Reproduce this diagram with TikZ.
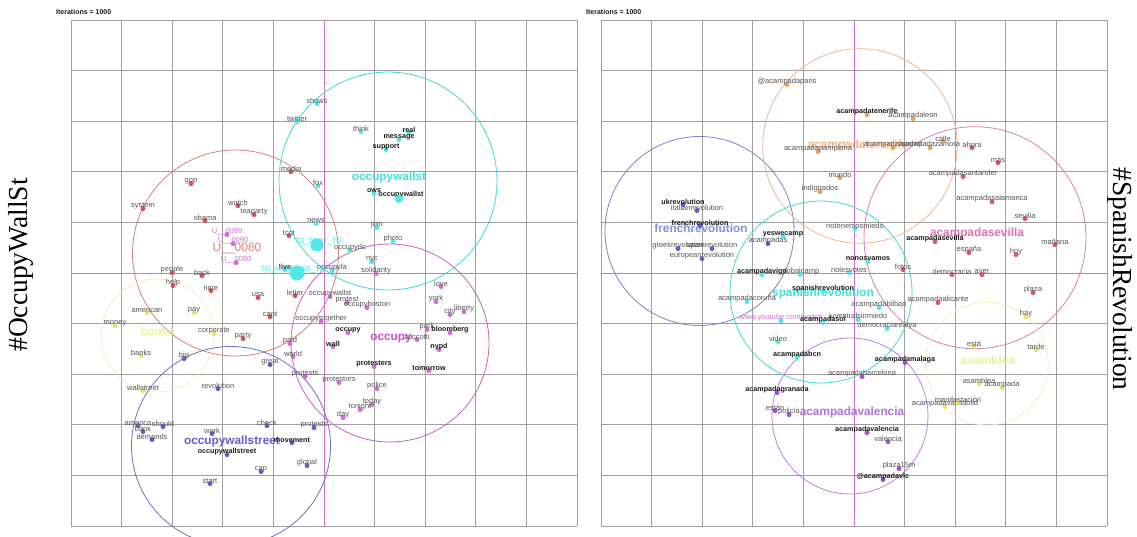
\documentclass[tikz,border=0pt]{standalone}
\usepackage{fontspec}
\setmainfont{Liberation Sans}
\newfontfamily\serifT{Liberation Serif}
\definecolor{gridc}{HTML}{A0A0A0}
\definecolor{axc}{HTML}{CC70CC}
\definecolor{txtg}{HTML}{555555}
\definecolor{txtb}{HTML}{1A1A1A}
% circle colours
\definecolor{ciR}{HTML}{D88080}
\definecolor{ciC}{HTML}{40D8D8}
\definecolor{ciM}{HTML}{C860C8}
\definecolor{ciY}{HTML}{F0F0B8}
\definecolor{ciB}{HTML}{7070C0}
\definecolor{ciF}{HTML}{8080D0}
\definecolor{ciO}{HTML}{F0B890}
\definecolor{ciP}{HTML}{D880B0}
\definecolor{ciV}{HTML}{C080E0}
% dot colours
\definecolor{dR}{HTML}{D85060}
\definecolor{dC}{HTML}{50E8E8}
\definecolor{dM}{HTML}{D070D0}
\definecolor{dY}{HTML}{E8E070}
\definecolor{dB}{HTML}{6060C8}
\definecolor{dO}{HTML}{E8A060}
\definecolor{dP}{HTML}{D85090}
\definecolor{dV}{HTML}{A050C8}
% big label colours
\definecolor{bR}{HTML}{E08080}
\definecolor{bC}{HTML}{40E0E0}
\definecolor{bY}{HTML}{F0F0A0}
\definecolor{bM}{HTML}{D050D0}
\definecolor{bB}{HTML}{6060D0}
\definecolor{bF}{HTML}{8090E8}
\definecolor{bO}{HTML}{F0B080}
\definecolor{bP}{HTML}{E070B0}
\definecolor{bV}{HTML}{B070E0}
\definecolor{bA}{HTML}{E8F0A0}
\newcommand\wordnode[6]{\fill[#4] (#2,#3+2.6) circle (2.5pt); \node[#5] (#1) at (#2,#3) {#6};}
\begin{document}
\begin{tikzpicture}[x=1pt,y=-1pt,
  gridl/.style={draw=gridc,line width=0.7pt},
  axl/.style={draw=axc,line width=0.8pt},
  clus/.style={line width=0.8pt},
  lbl/.style={font=\fontsize{7.5}{8}\selectfont,text=txtg,inner sep=0pt},
  lblb/.style={font=\fontsize{7.2}{8}\selectfont\bfseries,text=txtb,inner sep=0pt},
  lblc/.style={font=\fontsize{7.5}{8}\selectfont,inner sep=0pt},
  big/.style={font=\fontsize{11.8}{13}\selectfont\bfseries,inner sep=0pt},
  iter/.style={font=\fontsize{7}{8}\selectfont\bfseries,text=txtb,inner sep=0pt,anchor=west},
  side/.style={font=\serifT\fontsize{27.5}{30}\selectfont,inner sep=0pt}]
\useasboundingbox (0,0) rectangle (1137,536);
\fill[white] (0,0) rectangle (1137,536);

% grids
\foreach \i in {0,...,10}{
  \draw[gridl] ({71+50.6*\i},20) -- ({71+50.6*\i},526);
  \draw[gridl] (71,{20+50.6*\i}) -- (577,{20+50.6*\i});
  \draw[gridl] ({601+50.6*\i},20) -- ({601+50.6*\i},526);
  \draw[gridl] (601,{20+50.6*\i}) -- (1107,{20+50.6*\i});
}
% axes
\draw[axl] (324,20) -- (324,526);
\draw[axl] (71,273) -- (577,273);
\draw[axl] (854,20) -- (854,526);
\draw[axl] (601,273) -- (1107,273);

\node[iter] (itL) at (56,11.5) {Iterations = 1000};
\node[iter] (itR) at (586,11.5) {Iterations = 1000};

\node[side,rotate=90] (sideL) at (21,265) {\#OccupyWallSt};
\node[side,rotate=-90] (sideR) at (1120,279) {\#SpanishRevolution};

% ---------- LEFT clusters ----------
\draw[clus,ciR] (235.5,253) circle (103pt);
\draw[clus,ciC] (388,181) circle (109pt);
\draw[clus,ciM] (390,343) circle (99pt);
\draw[clus,ciY] (157.5,335.5) circle (56.5pt);
\draw[clus,ciB] (231,446) circle (99.5pt);

\node[big,text=bC] (BLc) at (389,177) {occupywallst};
\node[text=bR,inner sep=0pt,font=\fontsize{12}{13}\selectfont] (BLr) at (237,248) {U\_\_0080};
\node[big,text=bY] (BLy) at (158,331) {banks};
\node[big,text=bM] (BLm) at (391,339) {occupy};
\node[big,text=bB] (BLb) at (232,441) {occupywallstreet};

% cyan words
\wordnode{Lshows}{317}{101}{dC}{lbl}{shows}
\wordnode{Ltwitter}{297}{119}{dC}{lbl}{twitter}
\wordnode{Lthink}{361}{129}{dC}{lbl}{think}
\wordnode{Lreal}{409}{130}{dC}{lblb}{real}
\wordnode{Lmessage}{399}{137}{dC}{lblb}{message}
\wordnode{Lsupport}{386}{147}{dC}{lblb}{support}
\wordnode{Lfox}{318}{183}{dC}{lbl}{fox}
\wordnode{Lows}{374}{191}{dC}{lblb}{ows}
\wordnode{Lowsall}{401}{195}{dC}{lblb}{occupywallst}
\wordnode{Lnews}{316}{221}{dC}{lbl}{news}
\wordnode{Ljoin}{377}{225}{dC}{lbl}{join}
\wordnode{Lphoto}{393}{239}{dC}{lbl}{photo}
\wordnode{Locdc}{350}{248}{dC}{lbl}{occupydc}
\wordnode{Lnyc}{372}{259}{dC}{lbl}{nyc}
\wordnode{Locla}{332}{268}{dC}{lbl}{occupyla}
\wordnode{Llive}{285}{267}{dC}{lblb}{live}
\node[lblc,text=bC] (Ltgt) at (318,242) {TG\_TEXT\_TG};
\node[lblc,text=bC] (Ltgh) at (293,270) {TG\_HASHTAG\_TG};
\fill[dC] (317,245) circle (6.5pt);
\fill[dC] (297,273) circle (7.5pt);
\fill[dC] (399,199) circle (4pt);

% red words
\wordnode{Lmedia}{291}{169}{dR}{lbl}{media}
\wordnode{Lgop}{191}{181}{dR}{lbl}{gop}
\wordnode{Lsystem}{143}{206}{dR}{lbl}{system}
\wordnode{Lwatch}{238}{203}{dR}{lbl}{watch}
\wordnode{Ltea}{254}{212}{dR}{lbl}{teaparty}
\wordnode{Lobama}{205}{218}{dR}{lbl}{obama}
\wordnode{Ltcot}{289}{233}{dR}{lbl}{tcot}
\wordnode{Lpeople}{172}{270}{dR}{lbl}{people}
\wordnode{Lback}{202}{273}{dR}{lbl}{back}
\wordnode{Lhelp}{173}{283}{dR}{lbl}{help}
\wordnode{Ltime}{211}{288}{dR}{lbl}{time}
\wordnode{Lusa}{258}{295}{dR}{lbl}{usa}
\wordnode{Lletter}{295}{293}{dR}{lbl}{letter}
\wordnode{Lcant}{270}{314}{dR}{lbl}{cant}
\wordnode{Lparty}{243}{336}{dR}{lbl}{party}

% magenta words
\wordnode{Lu99}{227}{232}{dM}{lblc,text=dM}{U\_\_0099}
\wordnode{Lu90}{233}{241}{dM}{lblc,text=dM}{U\_\_0090}
\wordnode{Lu80}{236}{260}{dM}{lblc,text=dM}{U\_\_0080}
\wordnode{Lsolid}{376}{271}{dM}{lbl}{solidarity}
\wordnode{Llove}{441}{284}{dM}{lbl}{love}
\wordnode{Locws}{330}{294}{dM}{lbl}{occupywallst}
\wordnode{Lprotest}{347}{300}{dM}{lbl}{protest}
\wordnode{Lboston}{367}{305}{dM}{lbl}{occupyboston}
\wordnode{Lyork}{436}{299}{dM}{lbl}{york}
\wordnode{Lcity}{450}{312}{dM}{lbl}{city}
\wordnode{Lliberty}{464}{309}{dM}{lbl}{liberty}
\wordnode{Ltogether}{321}{319}{dM}{lbl}{occupytogether}
\wordnode{Loccupy}{348}{330}{dM}{lblb}{occupy}
\wordnode{Lpark}{427}{327}{dM}{lbl}{park}
\wordnode{Lbloom}{450}{330}{dM}{lblb}{bloomberg}
\wordnode{Lzucc}{417}{337}{dM}{lbl}{zuccotti}
\wordnode{Lwall}{333}{344}{dM}{lblb}{wall}
\wordnode{Lnypd}{439}{347}{dM}{lblb}{nypd}
\wordnode{Lpaid}{290}{341}{dM}{lbl}{paid}
\wordnode{Lworld}{293}{354}{dM}{lbl}{world}
\wordnode{Lprotesters}{374}{364}{dM}{lblb}{protesters}
\wordnode{Ltomorrow}{429}{368}{dM}{lblb}{tomorrow}
\wordnode{Lprotests}{305}{374}{dM}{lbl}{protests}
\wordnode{Lprotestors}{339}{380}{dM}{lbl}{protestors}
\wordnode{Lpolice}{377}{386}{dM}{lbl}{police}
\wordnode{Ltoday}{372}{402}{dM}{lbl}{today}
\wordnode{Ltonight}{360}{407}{dM}{lbl}{tonight}
\wordnode{Lday}{343}{415}{dM}{lbl}{day}

% yellow words
\wordnode{Lamerican}{147}{310}{dY}{lbl}{american}
\wordnode{Lpay}{194}{310}{dY}{lbl}{pay}
\wordnode{Lmoney}{115}{323}{dY}{lbl}{money}
\wordnode{Lcorporate}{214}{331}{dY}{lbl}{corporate}
\wordnode{Lbanks}{141}{353}{dY}{lbl}{banks}
\wordnode{Lwallstreet}{143}{388}{dY}{lbl}{wallstreet}

% blue words
\wordnode{Lbig}{184}{356}{dB}{lbl}{big}
\wordnode{Lgreat}{270}{362}{dB}{lbl}{great}
\wordnode{Lrevolution}{218}{386}{dB}{lbl}{revolution}
\wordnode{Lamerica}{138}{423}{dB}{lbl}{america}
\wordnode{Lshould}{163}{424}{dB}{lbl}{should}
\wordnode{Lbank}{143}{429}{dB}{lbl}{bank}
\wordnode{Ldemands}{152}{437}{dB}{lbl}{demands}
\wordnode{Lcheck}{267}{423}{dB}{lbl}{check}
\wordnode{Lprotestsb}{314}{425}{dB}{lbl}{protests}
\wordnode{Lwork}{212}{431}{dB}{lbl}{work}
\wordnode{Lmovement}{292}{440}{dB}{lblb}{movement}
\wordnode{Lows2}{227}{452}{dB}{lblb}{occupywallstreet}
\wordnode{Lcap}{261}{469}{dB}{lbl}{cap}
\wordnode{Lglobal}{307}{463}{dB}{lbl}{global}
\wordnode{Lstart}{210}{481}{dB}{lbl}{start}

% ---------- RIGHT clusters ----------
\draw[clus,ciF] (699.5,231) circle (94.5pt);
\draw[clus,ciO] (860,146) circle (97.3pt);
\draw[clus,ciP] (975,237.7) circle (111pt);
\draw[clus,ciC] (821,292) circle (91pt);
\draw[clus,ciV] (850,416) circle (78pt);
\draw[clus,ciY] (987,363.7) circle (61.3pt);

\node[big,text=bO] (BRo) at (858,145) {acampadatenerife};
\node[big,text=bP] (BRp) at (977,233) {acampadasevilla};
\node[big,text=bF] (BRf) at (701,228) {frenchrevolution};
\node[big,text=bC] (BRc) at (823,293) {spanishrevolution};
\node[big,text=bA] (BRa) at (988,360) {asamblea};
\node[big,text=bV] (BRv) at (852,412) {acampadavalencia};

% orange words
\wordnode{Rparis}{787}{82}{dO}{lbl}{@acampadaparis}
\wordnode{Rtenerife}{867}{112}{dO}{lblb}{acampadatenerife}
\wordnode{Rleon}{913}{116}{dO}{lbl}{acampadaleon}
\wordnode{Rpamplona}{818}{149}{dO}{lbl}{acampadapamplona}
\wordnode{Rmadrid}{893}{145}{dO}{lbl}{acampadamadrid}
\wordnode{Rzamora}{930}{145}{dO}{lbl}{acampadazamora}
\wordnode{Rcalle}{943}{139}{dO}{lbl}{calle}
\wordnode{Rmundo}{840}{175}{dO}{lbl}{mundo}
\wordnode{Rindign}{820}{189}{dO}{lbl}{indignados}

% pink words
\wordnode{Rahora}{972}{145}{dP}{lbl}{ahora}
\wordnode{Rmas}{998}{160}{dP}{lbl}{más}
\wordnode{Rsantander}{963}{174}{dP}{lbl}{acampadasantander}
\wordnode{Rsalamanca}{992}{199}{dP}{lbl}{acampadasalamanca}
\wordnode{Rsevilla}{1025}{216}{dP}{lbl}{sevilla}
\wordnode{Rsevilla2}{935}{239}{dP}{lblb}{acampadasevilla}
\wordnode{Rmanana}{1055}{242}{dP}{lbl}{mañana}
\wordnode{Respana}{969}{250}{dP}{lbl}{españa}
\wordnode{Rhoy}{1016}{252}{dP}{lbl}{hoy}
\wordnode{Rfotos}{903}{267}{dP}{lbl}{fotos}
\wordnode{Rdemocracia}{952}{272}{dP}{lbl}{democracia}
\wordnode{Rayer}{982}{272}{dP}{lbl}{ayer}
\wordnode{Rplaza}{1033}{290}{dP}{lbl}{plaza}
\wordnode{Ralicante}{938}{300}{dP}{lbl}{acampadaalicante}

% blue words
\wordnode{Rukr}{683}{202}{dB}{lblb}{ukrevolution}
\wordnode{Rital}{697}{208}{dB}{lbl}{italianrevolution}
\wordnode{Rfrench}{700}{223}{dB}{lblb}{frenchrevolution}
\wordnode{Rgreek}{678}{246}{dB}{lbl}{greekrevolution}
\wordnode{Rspain}{712}{246}{dB}{lbl}{spainrevolution}
\wordnode{Reuro}{702}{256}{dB}{lbl}{europeanrevolution}
\wordnode{Racampadas}{768}{241}{dB}{lbl}{acampadas}

% cyan words
\wordnode{Ryes}{783}{234}{dC}{lblb}{yeswecamp}
\wordnode{Rnotenemos}{855}{226}{dC}{lbl}{notenemosmiedo}
\wordnode{Rnonos}{868}{259}{dC}{lblb}{nonosvamos}
\wordnode{Rnoles}{849}{270}{dC}{lbl}{nolesvotes}
\wordnode{Rvigo}{762}{272}{dC}{lblb}{acampadavigo}
\wordnode{Rglobal}{800}{272}{dC}{lbl}{globalcamp}
\wordnode{Rcoruna}{747}{299}{dC}{lbl}{acampadacoruña}
\wordnode{Rspanish}{823}{289}{dC}{lblb}{spanishrevolution}
\wordnode{Ryoutube}{781}{318}{dC}{lblc,text=dM}{www.youtube.com/watch}
\wordnode{Rjuventud}{858}{317}{dC}{lbl}{juventudsinmiedo}
\wordnode{Rsol}{823}{320}{dC}{lblb}{acampadasol}
\wordnode{Rbilbao}{879}{305}{dC}{lbl}{acampadabilbao}
\wordnode{Rdry}{887}{326}{dC}{lbl}{democraciarealya}
\wordnode{Rvideo}{778}{339}{dC}{lbl}{video}
\wordnode{Rbcn}{797}{355}{dC}{lblb}{acampadabcn}

% yellow words
\wordnode{Rhay}{1026}{314}{dY}{lbl}{hay}
\wordnode{Resta}{974}{344}{dY}{lbl}{está}
\wordnode{Rtarde}{1036}{347}{dY}{lbl}{tarde}
\wordnode{Rasamblea}{979}{381}{dY}{lbl}{asamblea}
\wordnode{Racampada}{1002}{385}{dY}{lbl}{acampada}
\wordnode{Rvalladolid}{945}{404}{dY}{lbl}{acampadavalladolid}
\wordnode{Rmanif}{958}{400}{dY}{lbl}{manifestación}

% purple words
\wordnode{Rmalaga}{905}{360}{dV}{lblb}{acampadamalaga}
\wordnode{Rbarcelona}{862}{374}{dV}{lbl}{acampadabarcelona}
\wordnode{Rgranada}{777}{390}{dV}{lblb}{acampadagranada}
\wordnode{Restan}{775}{408}{dV}{lbl}{están}
\wordnode{Rpolicia}{789}{412}{dV}{lbl}{policía}
\wordnode{Rvalencia2}{867}{430}{dV}{lblb}{acampadavalencia}
\wordnode{Rvalencia}{888}{439}{dV}{lbl}{valencia}
\wordnode{Rplaza15}{899}{466}{dV}{lbl}{plaza15m}
\wordnode{Rvlc}{883}{477}{dV}{lblb}{@acampadavlc}
\end{tikzpicture}
\end{document}
